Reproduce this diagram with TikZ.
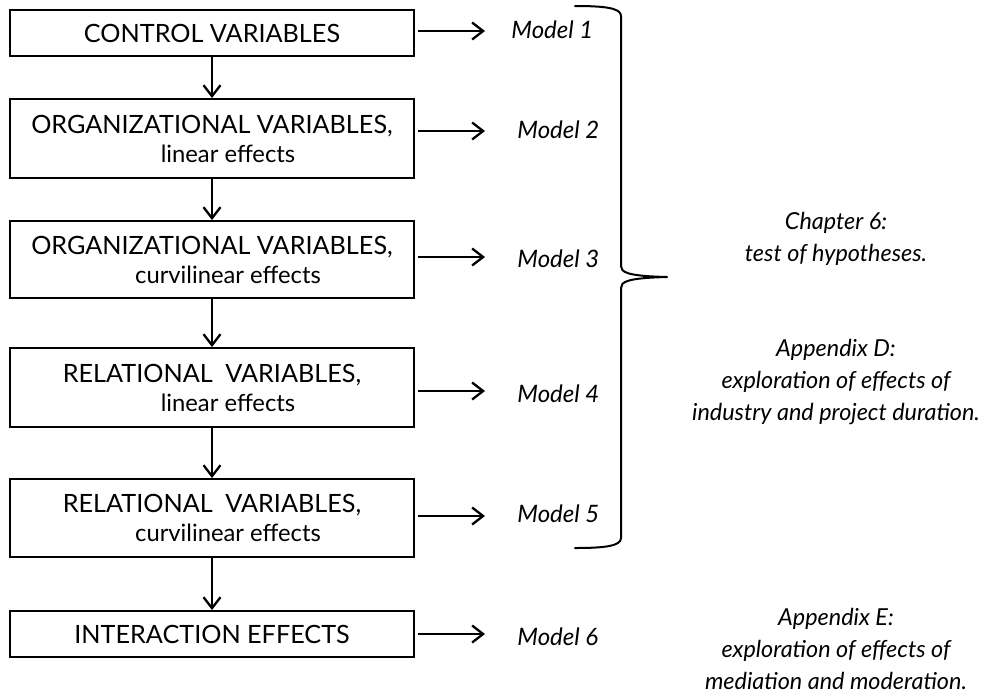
\documentclass[tikz,border=0pt]{standalone}
\usepackage{fontspec}
\setmainfont{Lato}
\usetikzlibrary{arrows.meta}

\newcommand{\sublabel}[1]{{\fontsize{11.9}{15.5}\selectfont\hspace*{16pt}#1}}

\begin{document}
\begin{tikzpicture}[x=0.5pt, y=-0.5pt,
  stagebox/.style={draw, line width=0.95pt, minimum width=202pt, inner sep=0pt,
    align=center, font=\fontsize{12.6}{15.5}\selectfont},
  flow/.style={-{Straight Barb[length=5.5pt,width=8.5pt,line width=1.15pt]}, line width=0.8pt},
  modeltag/.style={anchor=mid west, inner sep=0pt, font=\fontsize{12}{14}\selectfont\itshape},
  remark/.style={align=center, inner sep=0pt, font=\fontsize{11.7}{16}\selectfont\itshape},
  bracket/.style={line width=1pt, line cap=round, line join=round}
]
\useasboundingbox (0,0) rectangle (986,693);

% analysis steps
\node[stagebox, minimum height=23pt]   (b1) at (212,33)    {CONTROL VARIABLES};
\node[stagebox, minimum height=39.5pt] (b2) at (212,138.5) {\raisebox{-1pt}{ORGANIZATIONAL VARIABLES,}\\\sublabel{linear effects}};
\node[stagebox, minimum height=38.5pt] (b3) at (212,259.5) {\raisebox{-1pt}{ORGANIZATIONAL VARIABLES,}\\\sublabel{curvilinear effects}};
\node[stagebox, minimum height=39.5pt] (b4) at (212,387.5) {\raisebox{-1pt}{RELATIONAL\enspace VARIABLES,}\\\sublabel{linear effects}};
\node[stagebox, minimum height=39pt]   (b5) at (212,518)   {\raisebox{-1pt}{RELATIONAL\enspace VARIABLES,}\\\sublabel{curvilinear effects}};
\node[stagebox, minimum height=23pt]   (b6) at (212,634)   {INTERACTION EFFECTS};

% step to step
\draw[flow] (b1) -- (b2);
\draw[flow] (b2) -- (b3);
\draw[flow] (b3) -- (b4);
\draw[flow] (b4) -- (b5);
\draw[flow] (b5) -- (b6);

% models estimated at each step
\node[modeltag] (m1) at (511,33)  {Model 1};
\node[modeltag] (m2) at (517,133) {Model 2};
\node[modeltag] (m3) at (517,262) {Model 3};
\node[modeltag] (m4) at (517,397) {Model 4};
\node[modeltag] (m5) at (517,517) {Model 5};
\node[modeltag] (m6) at (517,640) {Model 6};

\coordinate (t1) at (485,31);
\coordinate (t2) at (485,131);
\coordinate (t3) at (485,257);
\coordinate (t4) at (485,391);
\coordinate (t5) at (485,516);
\coordinate (t6) at (485,634);
\foreach \i in {1,...,6}
  \draw[flow] ([xshift=1.5pt]b\i.east |- t\i) -- (t\i);

% brace grouping models 1 to 5
\draw[bracket] (575,6) .. controls (605,6) and (621,8) .. (621,16)
  -- (621,266) .. controls (621,272) and (626,276) .. (667,277)
  .. controls (626,278) and (621,282) .. (621,288)
  -- (621,538) .. controls (621,546) and (605,548) .. (575,548);

% where the results are reported
\node[remark] (r1) at (836,239) {Chapter 6:\\test of hypotheses.};
\node[remark] (r2) at (836,382) {Appendix D:\\exploration of effects of\\industry and project duration.};
\node[remark] (r3) at (836,649) {Appendix E:\\exploration of effects of\\mediation and moderation.};
\end{tikzpicture}
\end{document}
